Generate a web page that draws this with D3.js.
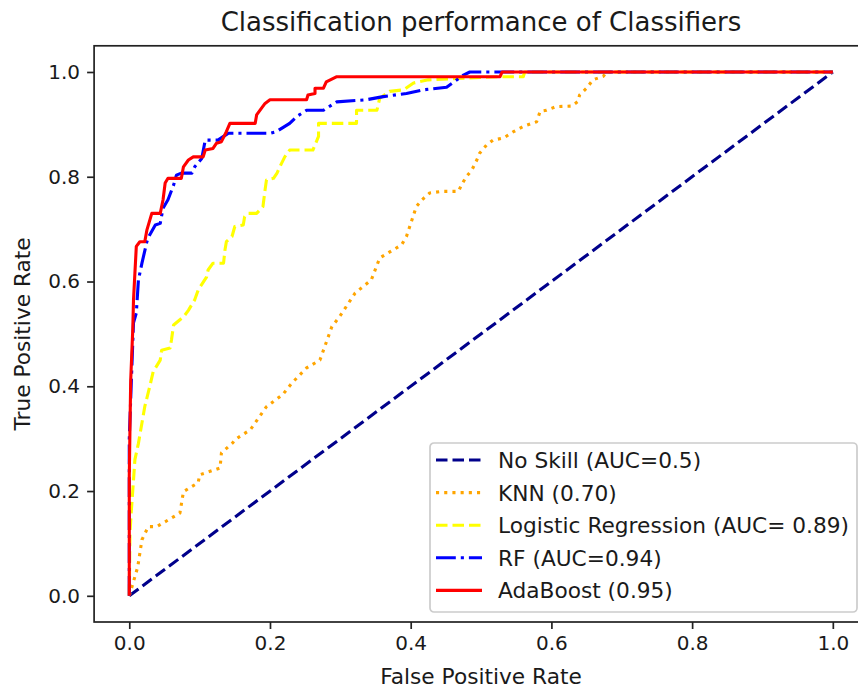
<!DOCTYPE html>
<html>
<head>
<meta charset="utf-8">
<script src="https://cdn.jsdelivr.net/npm/d3@7"></script>
<style>
  body { margin: 0; background: #fff; }
  svg text { font-family: "DejaVu Sans", sans-serif; fill: #1a1a1a; }
</style>
</head>
<body>
<div id="chart"></div>
<script>
// ROC points (false positive rate / true positive rate)
const noSkillFpr = [0, 1];
const noSkillTpr = [0, 1];

const knnFpr = [0, 0.012, 0.018, 0.027, 0.039, 0.072, 0.077, 0.098, 0.100, 0.129, 0.131, 0.147, 0.150, 0.172, 0.195, 0.218, 0.231, 0.252, 0.271, 0.288, 0.299, 0.321, 0.344, 0.356, 0.387, 0.394, 0.408, 0.416, 0.427, 0.444, 0.468, 0.472, 0.479, 0.487, 0.494, 0.498, 0.508, 0.517, 0.532, 0.546, 0.560, 0.579, 0.584, 0.593, 0.607, 0.629, 0.638, 0.640, 0.650, 0.659, 0.674, 0.678, 1];
const knnTpr = [0, 0.055, 0.107, 0.132, 0.132, 0.158, 0.199, 0.216, 0.231, 0.244, 0.273, 0.292, 0.298, 0.317, 0.361, 0.384, 0.406, 0.435, 0.450, 0.514, 0.533, 0.578, 0.603, 0.645, 0.670, 0.686, 0.743, 0.756, 0.769, 0.772, 0.772, 0.784, 0.800, 0.813, 0.832, 0.845, 0.861, 0.870, 0.874, 0.886, 0.896, 0.905, 0.925, 0.927, 0.934, 0.935, 0.944, 0.956, 0.969, 0.985, 0.992, 1, 1];

const lrFpr = [0, 0.001, 0.003, 0.006, 0.008, 0.013, 0.018, 0.022, 0.029, 0.034, 0.044, 0.046, 0.058, 0.060, 0.063, 0.072, 0.079, 0.084, 0.093, 0.098, 0.110, 0.112, 0.119, 0.134, 0.136, 0.138, 0.146, 0.150, 0.162, 0.164, 0.169, 0.181, 0.190, 0.193, 0.195, 0.205, 0.210, 0.214, 0.221, 0.228, 0.261, 0.269, 0.269, 0.323, 0.323, 0.352, 0.356, 0.370, 0.390, 0.404, 0.425, 0.527, 0.560, 0.562, 1];
const lrTpr = [0, 0.12, 0.164, 0.221, 0.260, 0.291, 0.330, 0.361, 0.399, 0.428, 0.450, 0.469, 0.473, 0.489, 0.517, 0.527, 0.536, 0.545, 0.565, 0.584, 0.609, 0.622, 0.635, 0.635, 0.660, 0.676, 0.686, 0.705, 0.708, 0.724, 0.730, 0.730, 0.743, 0.775, 0.794, 0.797, 0.807, 0.819, 0.838, 0.851, 0.851, 0.877, 0.902, 0.902, 0.927, 0.927, 0.950, 0.963, 0.966, 0.979, 0.985, 0.991, 0.991, 1, 1];

const rfFpr = [0, 0, 0.003, 0.006, 0.010, 0.013, 0.018, 0.025, 0.029, 0.037, 0.044, 0.048, 0.055, 0.063, 0.067, 0.074, 0.089, 0.093, 0.103, 0.108, 0.126, 0.134, 0.141, 0.200, 0.209, 0.228, 0.238, 0.252, 0.276, 0.295, 0.337, 0.361, 0.394, 0.418, 0.451, 0.475, 0.484, 1];
const rfTpr = [0, 0.30, 0.412, 0.521, 0.540, 0.603, 0.635, 0.676, 0.689, 0.708, 0.711, 0.740, 0.756, 0.784, 0.803, 0.807, 0.807, 0.819, 0.835, 0.870, 0.870, 0.877, 0.883, 0.883, 0.886, 0.902, 0.915, 0.927, 0.927, 0.943, 0.947, 0.953, 0.959, 0.966, 0.971, 0.994, 1, 1];

const adaFpr = [0, 0, 0.002, 0.005, 0.006, 0.008, 0.010, 0.015, 0.022, 0.025, 0.032, 0.044, 0.048, 0.051, 0.055, 0.074, 0.077, 0.084, 0.091, 0.105, 0.108, 0.119, 0.124, 0.131, 0.138, 0.143, 0.179, 0.181, 0.188, 0.193, 0.200, 0.252, 0.254, 0.264, 0.264, 0.276, 0.280, 0.295, 0.527, 0.530, 1];
const adaTpr = [0, 0.23, 0.41, 0.51, 0.565, 0.616, 0.667, 0.676, 0.676, 0.698, 0.730, 0.730, 0.756, 0.788, 0.797, 0.797, 0.819, 0.832, 0.838, 0.838, 0.851, 0.854, 0.864, 0.867, 0.886, 0.902, 0.902, 0.918, 0.931, 0.940, 0.947, 0.947, 0.956, 0.959, 0.969, 0.969, 0.981, 0.991, 0.991, 1, 1];

const seriesNames = ["No Skill (AUC=0.5)", "KNN (0.70)", "Logistic Regression (AUC= 0.89)", "RF (AUC=0.94)", "AdaBoost (0.95)"];
const seriesColors = ["#00008b", "#ffa500", "#ffff00", "#0000ff", "#ff0000"];
const seriesDash = ["11.5,5", "3.1,5.1", "11.5,5", "19.8,5,3.1,5", null];
const xTicks = [0, 0.2, 0.4, 0.6, 0.8, 1.0];
const yTicks = [0, 0.2, 0.4, 0.6, 0.8, 1.0];

const series = [
    [noSkillFpr, noSkillTpr],
    [knnFpr, knnTpr],
    [lrFpr, lrTpr],
    [rfFpr, rfTpr],
    [adaFpr, adaTpr]
].map(([f, t], i) => ({
    name: seriesNames[i],
    color: seriesColors[i],
    dash: seriesDash[i],
    points: f.map((v, j) => ({ fpr: v, tpr: t[j] }))
}));

const width = 858, height = 689;
const margin = { top: 45.8, right: -10, bottom: 67, left: 94.1 };
const innerW = width - margin.left - margin.right;
const innerH = height - margin.top - margin.bottom;

const svg = d3.select("#chart").append("svg")
    .attr("width", width)
    .attr("height", height);

const g = svg.append("g")
    .attr("transform", "translate(" + margin.left + "," + margin.top + ")");

const x = d3.scaleLinear().domain([-0.05, 1.05]).range([0, innerW]);
const y = d3.scaleLinear().domain([-0.05, 1.05]).range([innerH, 0]);

// axes
const xAxis = d3.axisBottom(x).tickValues(xTicks).tickFormat(d3.format(".1f")).tickSize(7).tickPadding(7);
const yAxis = d3.axisLeft(y).tickValues(yTicks).tickFormat(d3.format(".1f")).tickSize(7).tickPadding(7);

const gx = g.append("g")
    .attr("transform", "translate(0," + innerH + ")")
    .call(xAxis);
const gy = g.append("g").call(yAxis);

[gx, gy].forEach(a => {
    a.select(".domain").remove();
    a.selectAll(".tick line").attr("stroke", "#222").attr("stroke-width", 1.7);
    a.selectAll(".tick text").attr("font-size", 20).attr("font-family", "DejaVu Sans").attr("fill", "#1a1a1a");
});

// frame
g.append("rect")
    .attr("x", 0).attr("y", 0)
    .attr("width", innerW).attr("height", innerH)
    .attr("fill", "none")
    .attr("stroke", "#222")
    .attr("stroke-width", 1.7);

// curves
g.append("defs").append("clipPath").attr("id", "clip")
    .append("rect").attr("width", innerW).attr("height", innerH);

const line = d3.line()
    .x(d => x(d.fpr))
    .y(d => y(d.tpr));

g.append("g").attr("clip-path", "url(#clip)")
    .selectAll("path")
    .data(series)
    .join("path")
    .attr("d", d => line(d.points))
    .attr("fill", "none")
    .attr("stroke", d => d.color)
    .attr("stroke-width", 3.1)
    .attr("stroke-dasharray", d => d.dash)
    .attr("stroke-linejoin", "round");

// title & labels
svg.append("text")
    .attr("x", margin.left + innerW / 2)
    .attr("y", 31)
    .attr("text-anchor", "middle")
    .attr("font-size", 26)
    .text("Classification performance of Classifiers");

svg.append("text")
    .attr("x", margin.left + innerW / 2)
    .attr("y", 684)
    .attr("text-anchor", "middle")
    .attr("font-size", 21.7)
    .text("False Positive Rate");

svg.append("text")
    .attr("transform", "translate(30," + (margin.top + innerH / 2) + ") rotate(-90)")
    .attr("text-anchor", "middle")
    .attr("font-size", 21.7)
    .text("True Positive Rate");

// legend
const legend = svg.append("g").attr("transform", "translate(430,443)");
legend.append("rect")
    .attr("width", 427).attr("height", 169)
    .attr("rx", 4)
    .attr("fill", "#fff").attr("fill-opacity", 0.8)
    .attr("stroke", "#cccccc").attr("stroke-width", 1.7);

const rows = legend.selectAll("g.row")
    .data(series)
    .join("g")
    .attr("class", "row")
    .attr("transform", (d, i) => "translate(0," + (17 + i * 32.6) + ")");

rows.append("line")
    .attr("x1", 6).attr("x2", 52)
    .attr("stroke", d => d.color)
    .attr("stroke-width", 3.1)
    .attr("stroke-dasharray", d => d.dash);

rows.append("text")
    .attr("x", 68)
    .attr("y", 8)
    .attr("font-size", 21.7)
    .text(d => d.name);
</script>
</body>
</html>
